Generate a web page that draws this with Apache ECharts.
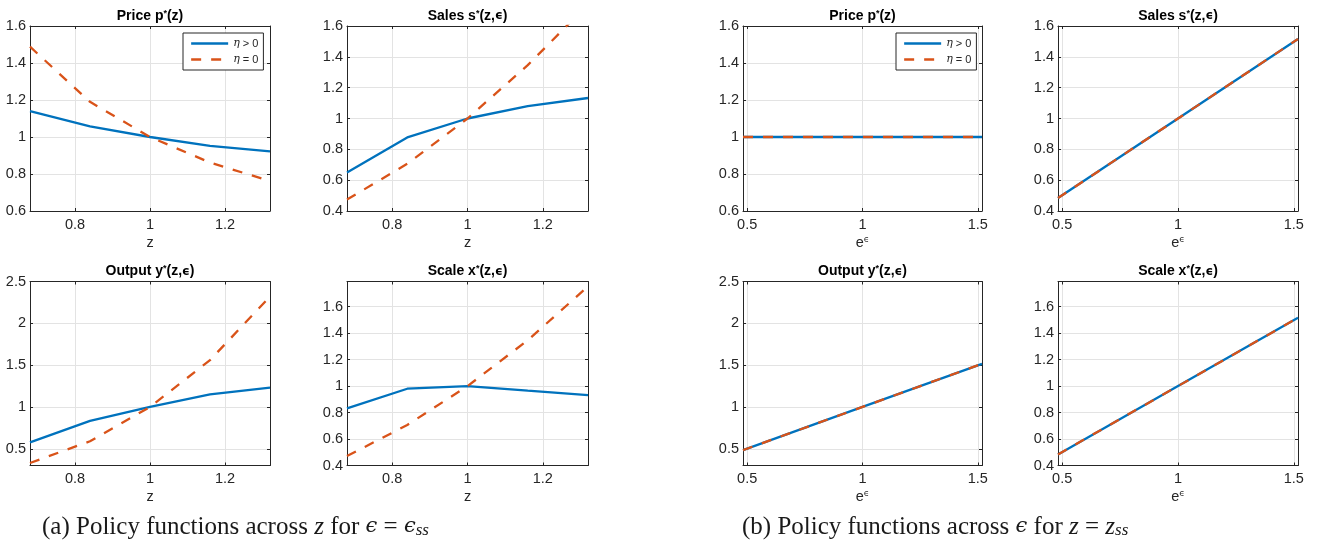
<!DOCTYPE html>
<html>
<head>
<meta charset="utf-8">
<script src="https://cdn.jsdelivr.net/npm/echarts@6/dist/echarts.min.js"></script>
<style>
  html, body { margin: 0; padding: 0; background: #fff; }
  #chart { width: 1317px; height: 554px; }
</style>
</head>
<body>
<div id="chart"></div>
<script>
// ---- data: policy functions across productivity z (epsilon at steady state)
const zGrid          = [0.68, 0.84, 1.0, 1.16, 1.32];
const priceZ_eta     = [1.140, 1.057, 1.0, 0.952, 0.922];
const priceZ_noEta   = [1.488, 1.190, 1.0, 0.862, 0.762];
const salesZ_eta     = [0.649, 0.877, 1.0, 1.080, 1.133];
const salesZ_noEta   = [0.474, 0.706, 1.0, 1.346, 1.740];
const outputZ_eta    = [0.576, 0.833, 1.0, 1.151, 1.231];
const outputZ_noEta  = [0.330, 0.590, 1.0, 1.560, 2.320];
const scaleZ_eta     = [0.832, 0.980, 1.0, 0.965, 0.931];
const scaleZ_noEta   = [0.471, 0.706, 1.0, 1.346, 1.753];

// ---- data: policy functions across demand shock e^eps (z at steady state)
const expEpsGrid     = [0.482, 1.0, 1.518];
const priceE_eta     = [1.0, 1.0, 1.0];
const priceE_noEta   = [1.0, 1.0, 1.0];
const salesE_eta     = [0.484, 1.0, 1.516];
const salesE_noEta   = [0.484, 1.0, 1.516];
const outputE_eta    = [0.484, 1.0, 1.516];
const outputE_noEta  = [0.484, 1.0, 1.516];
const scaleE_eta     = [0.484, 1.0, 1.516];
const scaleE_noEta   = [0.484, 1.0, 1.516];

// ---- tick labels
const zTicks     = [0.8, 1, 1.2];
const epsTicks   = [0.5, 1, 1.5];
const priceTicks = [0.6, 0.8, 1, 1.2, 1.4, 1.6];
const salesTicks = [0.4, 0.6, 0.8, 1, 1.2, 1.4, 1.6];
const outTicks   = [0.5, 1, 1.5, 2, 2.5];
const scaleTicks = [0.4, 0.6, 0.8, 1, 1.2, 1.4, 1.6];

const seriesNames = ['η > 0', 'η = 0'];

const BLUE = '#0072BD';
const ORANGE = '#D95319';
const AX = '#262626';
const GRID_C = '#e3e3e3';
const SANS = '"Liberation Sans", Arial, "DejaVu Sans", sans-serif';

// panel layout: [left, top, width, height]
const colL = [30, 347, 743, 1058];
const colW = [240, 241, 239, 240];
const rowT = [26, 281.5];
const rowH = [185, 184];

const panels = [
  { r: 0, c: 0, x: zGrid, a: priceZ_eta, b: priceZ_noEta, xr: [0.68, 1.32], xt: zTicks, yr: [0.6, 1.6], yt: priceTicks, title: 'price', xname: 'z' },
  { r: 0, c: 1, x: zGrid, a: salesZ_eta, b: salesZ_noEta, xr: [0.68, 1.32], xt: zTicks, yr: [0.4, 1.6], yt: salesTicks, title: 'sales', xname: 'z' },
  { r: 1, c: 0, x: zGrid, a: outputZ_eta, b: outputZ_noEta, xr: [0.68, 1.32], xt: zTicks, yr: [0.3, 2.5], yt: outTicks, title: 'output', xname: 'z' },
  { r: 1, c: 1, x: zGrid, a: scaleZ_eta, b: scaleZ_noEta, xr: [0.68, 1.32], xt: zTicks, yr: [0.4, 1.79], yt: scaleTicks, title: 'scale', xname: 'z' },
  { r: 0, c: 2, x: expEpsGrid, a: priceE_eta, b: priceE_noEta, xr: [0.482, 1.518], xt: epsTicks, yr: [0.6, 1.6], yt: priceTicks, title: 'price', xname: 'e' },
  { r: 0, c: 3, x: expEpsGrid, a: salesE_eta, b: salesE_noEta, xr: [0.482, 1.518], xt: epsTicks, yr: [0.4, 1.6], yt: salesTicks, title: 'sales', xname: 'e' },
  { r: 1, c: 2, x: expEpsGrid, a: outputE_eta, b: outputE_noEta, xr: [0.482, 1.518], xt: epsTicks, yr: [0.3, 2.5], yt: outTicks, title: 'output', xname: 'e' },
  { r: 1, c: 3, x: expEpsGrid, a: scaleE_eta, b: scaleE_noEta, xr: [0.482, 1.518], xt: epsTicks, yr: [0.4, 1.79], yt: scaleTicks, title: 'scale', xname: 'e' }
];

const titleText = {
  price:  '{b|Price p}{s|*}{b|(z)}',
  sales:  '{b|Sales s}{s|*}{b|(z,}{g|ϵ}{b|)}',
  output: '{b|Output y}{s|*}{b|(z,}{g|ϵ}{b|)}',
  scale:  '{b|Scale x}{s|*}{b|(z,}{g|ϵ}{b|)}'
};
const titleRich = {
  b: { fontFamily: SANS, fontSize: 14, fontWeight: 'bold', fill: '#000', color: '#000' },
  s: { fontFamily: SANS, fontSize: 9, fontWeight: 'bold', fill: '#000', color: '#000', verticalAlign: 'top' },
  g: { fontFamily: '"DejaVu Sans", sans-serif', fontSize: 12, fontWeight: 'bold', fill: '#000', color: '#000' }
};

const grids = [], xAxes = [], yAxes = [], series = [], graphics = [];

function pair(xs, ys) { return xs.map((v, i) => [v, ys[i]]); }

panels.forEach((p, i) => {
  const left = colL[p.c], top = rowT[p.r], w = colW[p.c], h = rowH[p.r];
  grids.push({ left, top, width: w, height: h, containLabel: false });

  const nameText = p.xname === 'z' ? '{n|z}' : '{n|e}{sup|ϵ}';
  xAxes.push({
    type: 'value', gridIndex: i, position: 'bottom', min: p.xr[0], max: p.xr[1],
    axisLine: { show: true, onZero: false, lineStyle: { color: AX, width: 1 } },
    axisTick: { show: true, inside: true, length: 3, customValues: p.xt, lineStyle: { color: AX } },
    axisLabel: { customValues: p.xt, color: AX, fontSize: 14.5, fontFamily: SANS, margin: 6 },
    splitLine: { show: true, lineStyle: { color: GRID_C, width: 1 } },
    name: nameText, nameLocation: 'middle', nameGap: 24,
    nameTextStyle: {
      rich: {
        n: { fontSize: 14.5, fontFamily: SANS, color: AX },
        sup: { fontSize: 9, fontFamily: '"DejaVu Sans", sans-serif', color: AX, verticalAlign: 'top' }
      }
    }
  });
  xAxes.push({
    type: 'value', gridIndex: i, position: 'top', min: p.xr[0], max: p.xr[1],
    axisLine: { show: true, onZero: false, lineStyle: { color: AX, width: 1 } },
    axisTick: { show: true, inside: true, length: 3, customValues: p.xt, lineStyle: { color: AX } },
    axisLabel: { show: false },
    splitLine: { show: false }
  });
  yAxes.push({
    type: 'value', gridIndex: i, position: 'left', min: p.yr[0], max: p.yr[1],
    axisLine: { show: true, onZero: false, lineStyle: { color: AX, width: 1 } },
    axisTick: { show: true, inside: true, length: 3, customValues: p.yt, lineStyle: { color: AX } },
    axisLabel: { customValues: p.yt, color: AX, fontSize: 14.5, fontFamily: SANS, margin: 4 },
    splitLine: { show: true, lineStyle: { color: GRID_C, width: 1 } }
  });
  yAxes.push({
    type: 'value', gridIndex: i, position: 'right', min: p.yr[0], max: p.yr[1],
    axisLine: { show: true, onZero: false, lineStyle: { color: AX, width: 1 } },
    axisTick: { show: true, inside: true, length: 3, customValues: p.yt, lineStyle: { color: AX } },
    axisLabel: { show: false },
    splitLine: { show: false }
  });

  series.push({
    type: 'line', name: seriesNames[0], xAxisIndex: 2 * i, yAxisIndex: 2 * i,
    data: pair(p.x, p.a), symbol: 'none', showSymbol: false, clip: true,
    lineStyle: { color: BLUE, width: 2.3 }, itemStyle: { color: BLUE }, z: 3
  });
  series.push({
    type: 'line', name: seriesNames[1], xAxisIndex: 2 * i, yAxisIndex: 2 * i,
    data: pair(p.x, p.b), symbol: 'none', showSymbol: false, clip: true,
    lineStyle: { color: ORANGE, width: 2.3, type: [10, 10] }, itemStyle: { color: ORANGE }, z: 4
  });

  graphics.push({
    type: 'text', x: left + w / 2, y: top - 10, z: 10,
    style: { text: titleText[p.title], rich: titleRich, align: 'center', verticalAlign: 'middle' }
  });
});

const capRich = {
  r:   { fontFamily: '"Liberation Serif", serif', fontSize: 25, fill: '#1a1a1a' },
  i:   { fontFamily: '"Liberation Serif", serif', fontSize: 25, fontStyle: 'italic', fill: '#1a1a1a' },
  e:   { fontFamily: '"DejaVu Serif", serif', fontSize: 21, fontStyle: 'italic', fill: '#1a1a1a' },
  sub: { fontFamily: '"Liberation Serif", serif', fontSize: 17, fontStyle: 'italic', fill: '#1a1a1a', padding: [8, 0, 0, 0] }
};
graphics.push({
  type: 'text', x: 42, y: 527,
  style: { text: '{r|(a) Policy functions across }{i|z}{r| for }{e|ϵ}{r| = }{e|ϵ}{sub|ss}', rich: capRich, align: 'left', verticalAlign: 'middle' }
});
graphics.push({
  type: 'text', x: 742, y: 527,
  style: { text: '{r|(b) Policy functions across }{e|ϵ}{r| for }{i|z}{r| = }{i|z}{sub|ss}', rich: capRich, align: 'left', verticalAlign: 'middle' }
});

function legendAt(left) {
  return {
    data: seriesNames, orient: 'vertical', left, top: 33,
    itemWidth: 37, itemHeight: 10, itemGap: 5,
    padding: [5, 5, 5, 7],
    borderColor: AX, borderWidth: 1, backgroundColor: '#fff',
    selectedMode: false,
    itemStyle: { opacity: 0 },
    lineStyle: { width: 2.3, type: 'inherit', opacity: 1 },
    formatter: n => '{g|η}{t|' + n.slice(1) + '}',
    textStyle: {
      color: AX,
      rich: {
        g: { fontFamily: '"DejaVu Serif", serif', fontStyle: 'italic', fontSize: 11, color: AX },
        t: { fontFamily: SANS, fontSize: 11, color: AX }
      }
    }
  };
}

const chart = echarts.init(document.getElementById('chart'), null, { renderer: 'canvas' });
chart.setOption({
  animation: false,
  backgroundColor: '#fff',
  grid: grids,
  xAxis: xAxes,
  yAxis: yAxes,
  series,
  legend: [legendAt(183), legendAt(896)],
  graphic: graphics
});
</script>
</body>
</html>
